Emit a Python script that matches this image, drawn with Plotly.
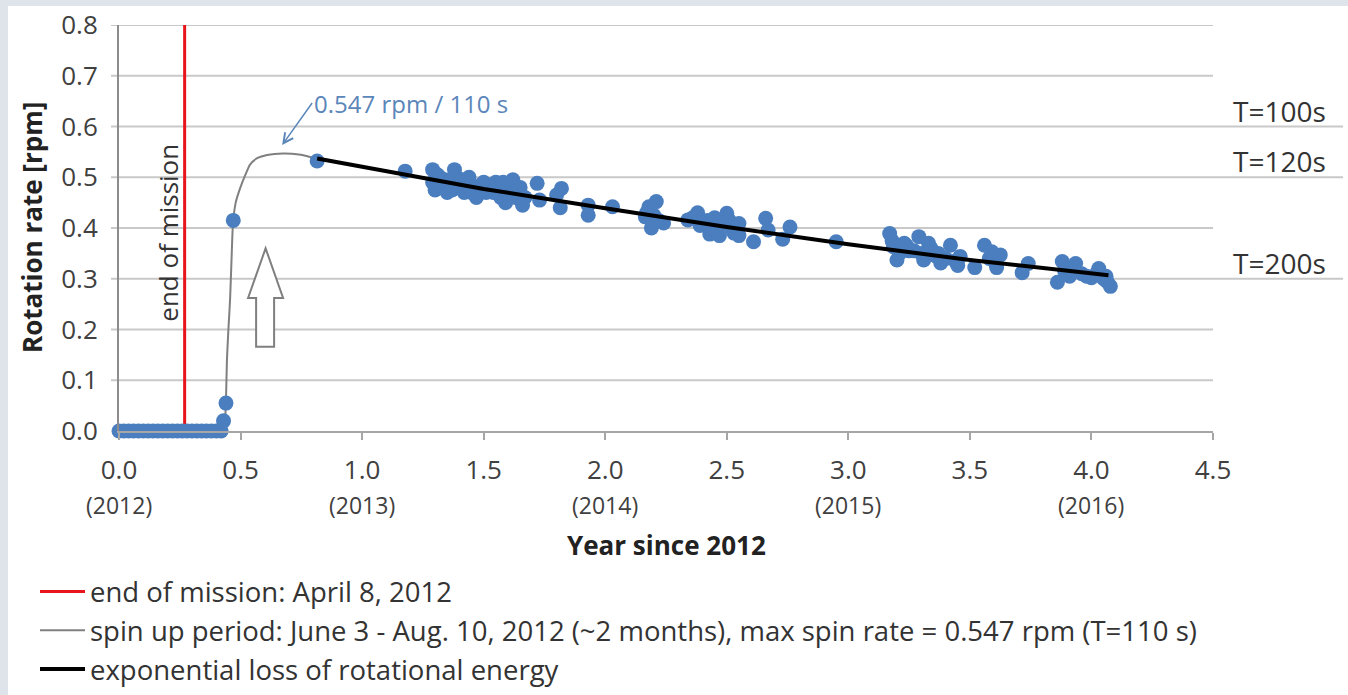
import plotly.graph_objects as go

# ---- data -------------------------------------------------------------
# observed rotation rate before spin-up (all zero)
zero_years = [0.00, 0.02, 0.04, 0.06, 0.08, 0.10, 0.12, 0.14, 0.16, 0.18, 0.20,
              0.22, 0.24, 0.26, 0.28, 0.30, 0.32, 0.34, 0.36, 0.38, 0.40, 0.42]
zero_rpm = [0.0] * len(zero_years)

# observed rotation rate during and after spin-up
obs_years = [0.43, 0.44, 0.47, 0.815, 1.177,
             1.29, 1.29, 1.30, 1.31, 1.32, 1.33, 1.34, 1.35, 1.36, 1.37, 1.38,
             1.39, 1.40, 1.41, 1.42, 1.43, 1.44, 1.45, 1.46, 1.47, 1.48, 1.49,
             1.50, 1.51, 1.52, 1.53, 1.54, 1.55, 1.56, 1.57, 1.58, 1.59, 1.60,
             1.61, 1.62, 1.63, 1.64, 1.65, 1.66, 1.67,
             1.72, 1.73, 1.80, 1.82, 1.815, 1.93, 1.93, 2.03,
             2.165, 2.17, 2.18, 2.19, 2.20, 2.21, 2.22, 2.24,
             2.34, 2.36, 2.38, 2.39, 2.40, 2.42, 2.43, 2.44, 2.45, 2.47, 2.48,
             2.50, 2.51, 2.52, 2.53, 2.55, 2.55, 2.61,
             2.66, 2.67, 2.73, 2.76, 2.95,
             3.17, 3.18, 3.185, 3.20, 3.21, 3.23, 3.24, 3.25, 3.27, 3.29, 3.30,
             3.31, 3.33, 3.34, 3.36, 3.37, 3.38, 3.40, 3.42, 3.44, 3.45, 3.46,
             3.52, 3.56, 3.58, 3.59, 3.60, 3.61, 3.625, 3.715, 3.74,
             3.86, 3.88, 3.89, 3.91, 3.92, 3.935, 3.96, 3.98, 4.00, 4.02, 4.03,
             4.05, 4.06, 4.065, 4.078]
obs_rpm = [0.02, 0.055, 0.415, 0.532, 0.512,
           0.515, 0.49, 0.475, 0.505, 0.50, 0.48, 0.495, 0.47, 0.49, 0.475, 0.515,
           0.50, 0.48, 0.495, 0.47, 0.485, 0.50, 0.47, 0.48, 0.46, 0.475, 0.485,
           0.49, 0.47, 0.485, 0.48, 0.47, 0.49, 0.475, 0.46, 0.49, 0.45, 0.475,
           0.465, 0.495, 0.46, 0.47, 0.48, 0.445, 0.46,
           0.488, 0.455, 0.465, 0.478, 0.44, 0.445, 0.425, 0.442,
           0.422, 0.43, 0.442, 0.40, 0.425, 0.452, 0.415, 0.41,
           0.416, 0.42, 0.43, 0.405, 0.41, 0.415, 0.388, 0.40, 0.42, 0.385, 0.41,
           0.429, 0.415, 0.40, 0.39, 0.409, 0.385, 0.373,
           0.419, 0.396, 0.378, 0.402, 0.373,
           0.389, 0.375, 0.363, 0.337, 0.35, 0.37, 0.365, 0.355, 0.355, 0.383, 0.35,
           0.337, 0.37, 0.36, 0.345, 0.35, 0.331, 0.34, 0.366, 0.335, 0.326, 0.344,
           0.322, 0.366, 0.34, 0.353, 0.335, 0.322, 0.347, 0.312, 0.33,
           0.293, 0.334, 0.315, 0.305, 0.32, 0.33, 0.31, 0.305, 0.302, 0.31, 0.32,
           0.30, 0.305, 0.294, 0.285]

# spin-up period curve (June 3 - Aug. 10, 2012)
spinup_years = [0.430, 0.436, 0.440, 0.444, 0.450, 0.457, 0.463, 0.469, 0.480,
                0.498, 0.520, 0.539, 0.570, 0.609, 0.675, 0.740, 0.786, 0.815]
spinup_rpm = [0.000, 0.020, 0.060, 0.140, 0.200, 0.260, 0.340, 0.410, 0.450,
              0.478, 0.505, 0.525, 0.538, 0.544, 0.547, 0.545, 0.540, 0.536]

# exponential loss of rotational energy
decay_years = [0.815, 1.25, 1.5, 2.0, 2.5, 3.0, 3.5, 4.07]
decay_rpm = [0.537, 0.500, 0.477, 0.439, 0.402, 0.368, 0.337, 0.307]

end_of_mission = 0.27        # April 8, 2012
peak_rpm = 0.547
peak_year = 0.671

x_ticks = [0.0, 0.5, 1.0, 1.5, 2.0, 2.5, 3.0, 3.5, 4.0, 4.5]
x_tick_text = ["0.0", "0.5", "1.0", "1.5", "2.0", "2.5", "3.0", "3.5", "4.0", "4.5"]
year_ticks = [0, 1, 2, 3, 4]
year_labels = ["(2012)", "(2013)", "(2014)", "(2015)", "(2016)"]
y_ticks = [0.0, 0.1, 0.2, 0.3, 0.4, 0.5, 0.6, 0.7, 0.8]
y_tick_text = ["0.0", "0.1", "0.2", "0.3", "0.4", "0.5", "0.6", "0.7", "0.8"]
period_rpm = [0.6, 0.5, 0.3]
period_labels = ["T=100s", "T=120s", "T=200s"]

# ---- styling ----------------------------------------------------------
FONT = "'Open Sans', Lato, sans-serif"
BLUE = "#4a7ebf"
W, H = 1348, 695
ML, MR, MT, MB = 119, 135, 25, 264
PW, PH = W - ML - MR, H - MT - MB

fig = go.Figure()

fig.add_trace(go.Scatter(
    x=[end_of_mission, end_of_mission], y=[y_ticks[0], y_ticks[-1]],
    mode="lines", line=dict(color="#e8141b", width=3),
    name="end of mission: April 8, 2012"))
fig.add_trace(go.Scatter(
    x=spinup_years, y=spinup_rpm, mode="lines",
    line=dict(color="#808080", width=2, shape="spline", smoothing=0.6),
    name="spin up period: June 3 - Aug. 10, 2012 (~2 months), max spin rate = 0.547 rpm (T=110 s)"))
fig.add_trace(go.Scatter(
    x=zero_years + obs_years, y=zero_rpm + obs_rpm, mode="markers",
    marker=dict(color=BLUE, size=15), showlegend=False, cliponaxis=False))
fig.add_trace(go.Scatter(
    x=decay_years, y=decay_rpm, mode="lines",
    line=dict(color="#000000", width=4),
    name="exponential loss of rotational energy"))

shapes = []
# horizontal gridlines (some extended to the period labels)
for v in y_ticks[1:]:
    x1 = 1.0 + 130 / PW if v in period_rpm else 1.0
    shapes.append(dict(type="line", xref="paper", yref="y", x0=-8 / PW, x1=x1,
                       y0=v, y1=v, line=dict(color="#c9c9c9", width=2), layer="below"))
# hollow block arrow marking the spin-up
shapes.append(dict(
    type="path", xref="x", yref="y",
    path="M0.564,0.166 L0.564,0.262 L0.531,0.262 L0.603,0.36 L0.675,0.262 "
         "L0.638,0.262 L0.638,0.166 Z",
    line=dict(color="#7f7f7f", width=2), fillcolor="white"))
# slide border strips
shapes.append(dict(type="rect", xref="paper", yref="paper", layer="below",
                   x0=-ML / PW, x1=(-ML + 8) / PW, y0=-MB / PH, y1=1 + MT / PH,
                   line=dict(width=0), fillcolor="#dfe4ea"))
shapes.append(dict(type="rect", xref="paper", yref="paper", layer="below",
                   x0=-ML / PW, x1=1 + MR / PW, y0=1 + (MT - 6) / PH, y1=1 + MT / PH,
                   line=dict(width=0), fillcolor="#dfe4ea"))

annotations = []
for yr, lab in zip(year_ticks, year_labels):
    annotations.append(dict(x=yr, y=-74 / PH, xref="x", yref="paper", text=lab,
                            xanchor="center", yanchor="middle", showarrow=False,
                            font=dict(family=FONT, size=23, color="#404040")))
for v, lab in zip(period_rpm, period_labels):
    annotations.append(dict(x=1.0 + 18 / PW, y=v, xref="paper", yref="y", text=lab,
                            xanchor="left", yanchor="middle", yshift=16, showarrow=False,
                            font=dict(family=FONT, size=28, color="#333333")))
annotations.append(dict(x=end_of_mission, y=0.39, xref="x", yref="y", text="end of mission",
                        textangle=-90, xshift=-17, showarrow=False,
                        font=dict(family=FONT, size=26, color="#333333")))
annotations.append(dict(x=peak_year, y=0.5635, xref="x", yref="y",
                        text=f"{peak_rpm} rpm / 110 s", xanchor="left", yanchor="middle",
                        ax=30, ay=-42, showarrow=True, arrowhead=5, arrowsize=1.3,
                        arrowwidth=1.5, arrowcolor="#5b86ba",
                        font=dict(family=FONT, size=24, color="#5b86ba")))
# axis titles
annotations.append(dict(x=0.5, y=-114 / PH, xref="paper", yref="paper",
                        text="<b>Year since 2012</b>", xanchor="center", yanchor="middle",
                        showarrow=False, font=dict(family=FONT, size=26, color="#222222")))
annotations.append(dict(x=-87 / PW, y=0.5, xref="paper", yref="paper",
                        text="<b>Rotation rate [rpm]</b>", textangle=-90,
                        xanchor="center", yanchor="middle",
                        showarrow=False, font=dict(family=FONT, size=26, color="#222222")))

fig.update_layout(
    width=W, height=H,
    margin=dict(l=ML, r=MR, t=MT, b=MB, autoexpand=False),
    paper_bgcolor="white", plot_bgcolor="white",
    font=dict(family=FONT, color="#333333"),
    hovermode=False,
    shapes=shapes, annotations=annotations,
    legend=dict(x=35 / W, y=1 - 567 / H, xref="container", yref="container",
                xanchor="left", yanchor="top", bgcolor="rgba(0,0,0,0)",
                itemwidth=45,
                font=dict(family=FONT, size=27.5, color="#333333"),
                traceorder="normal"),
    xaxis=dict(range=[0, 4.5], tickvals=x_ticks, ticktext=x_tick_text,
               showgrid=False, zeroline=False, showline=True, linecolor="#a6a6a6",
               linewidth=2, ticks="outside", ticklen=7, tickcolor="#a6a6a6",
               tickwidth=2, ticklabelstandoff=8,
               tickfont=dict(family=FONT, size=26, color="#404040")),
    yaxis=dict(range=[0, 0.8], tickvals=y_ticks, ticktext=y_tick_text,
               showgrid=False, zeroline=False, showline=True, linecolor="#8c8c8c",
               linewidth=2, ticks="", ticklabelstandoff=14,
               tickfont=dict(family=FONT, size=26, color="#404040")),
)

fig.write_html("out.html", config={"displayModeBar": False})
